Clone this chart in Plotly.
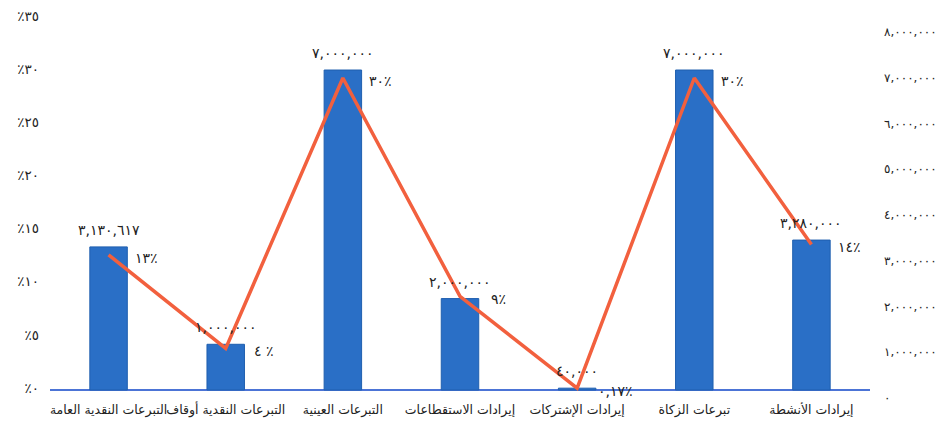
import plotly.graph_objects as go

categories = [
    "التبرعات النقدية العامة",
    "التبرعات النقدية أوقاف",
    "التبرعات العينية",
    "إيرادات الاستقطاعات",
    "إيرادات الإشتركات",
    "تبرعات الزكاة",
    "إيرادات الأنشطة",
]
amounts = [3130617, 1000000, 7000000, 2000000, 40000, 7000000, 3280000]
percents = [13, 4, 30, 9, 0.17, 30, 14]
percent_labels = ["١٣٪", "٤ ٪", "٣٠٪", "٩٪", "٠,١٧٪", "٣٠٪", "١٤٪"]
left_ticks = [0, 5, 10, 15, 20, 25, 30, 35]
right_ticks = [0, 1000000, 2000000, 3000000, 4000000, 5000000, 6000000, 7000000, 8000000]

AR = str.maketrans("0123456789", "٠١٢٣٤٥٦٧٨٩")


def ar_num(v):
    return format(int(v), ",").translate(AR)


FONT = "DejaVu Sans, sans-serif"
TXT = "#222222"
x_idx = list(range(len(categories)))

# Pixel scales of the scanned chart (px per unit) -- its tick labels sit
# slightly off the data scales, so label positions are mapped between them.
BAR_PX = 45.71 / 1e6      # bars: px per currency unit, zero on baseline
LINE_PX = 10.4            # line: px per percent, zero on baseline
LEFT_PX, LEFT_OFF = 10.63, 2    # left % labels
RIGHT_PX, RIGHT_OFF = 45.75 / 1e6, -8  # right amount labels

left_tick_pos = [(LEFT_OFF + LEFT_PX * t) / BAR_PX for t in left_ticks]
right_tick_pos = [(RIGHT_OFF + RIGHT_PX * t) / LINE_PX for t in right_ticks]

fig = go.Figure()
fig.add_trace(go.Bar(
    x=x_idx, y=amounts, yaxis="y", width=0.32,
    marker=dict(color="#2A6FC6", line=dict(color="#1F5FAF", width=1)),
    showlegend=False, hoverinfo="skip",
))
fig.add_trace(go.Scatter(
    x=x_idx, y=percents, yaxis="y2", mode="lines",
    line=dict(color="#F2603E", width=3.5),
    showlegend=False, hoverinfo="skip",
))

annotations = []
for i, v in enumerate(amounts):
    annotations.append(dict(
        x=i, y=v, xref="x", yref="y", text=ar_num(v), showarrow=False,
        yshift=17, xanchor="center", yanchor="middle",
        font=dict(family=FONT, size=14, color=TXT),
    ))
for i, (p, lab) in enumerate(zip(percents, percent_labels)):
    annotations.append(dict(
        x=i, y=p, xref="x", yref="y2", text=lab, showarrow=False,
        xshift=38, yshift=-3, xanchor="center", yanchor="middle",
        font=dict(family=FONT, size=14, color=TXT),
    ))

# plot area (window px): top 12, bottom 400; baseline at 390
TOP, BOTTOM, BASE = 12, 400, 390
fig.update_layout(
    width=952, height=430,
    margin=dict(l=42, r=90, t=TOP - 8, b=430 + 8 - BOTTOM),
    paper_bgcolor="white", plot_bgcolor="white",
    font=dict(family=FONT, size=12, color=TXT),
    xaxis=dict(
        range=[-0.5, 6.5], tickmode="array", tickvals=x_idx,
        ticktext=categories, tickangle=0, showgrid=False, showline=False,
        zeroline=False, ticks="", automargin=False,
        tickfont=dict(family=FONT, size=12.5, color=TXT),
    ),
    yaxis=dict(
        range=[-(BOTTOM - BASE) / BAR_PX, (BASE - TOP) / BAR_PX],
        tickmode="array", tickvals=left_tick_pos,
        ticktext=["٪" + str(t).translate(AR) for t in left_ticks],
        showgrid=False, showline=False, zeroline=True,
        zerolinecolor="#4C74D6", zerolinewidth=1.5,
        ticklabelstandoff=10, automargin=False, ticklabeloverflow="allow",
        tickfont=dict(family=FONT, size=13.5, color=TXT),
    ),
    yaxis2=dict(
        range=[-(BOTTOM - BASE) / LINE_PX, (BASE - TOP) / LINE_PX],
        overlaying="y", side="right", anchor="x",
        tickmode="array", tickvals=right_tick_pos,
        ticktext=[ar_num(t) for t in right_ticks],
        showgrid=False, showline=False, zeroline=False, ticks="",
        ticklabelstandoff=13, automargin=False, ticklabeloverflow="allow",
        tickfont=dict(family=FONT, size=12, color=TXT),
    ),
    annotations=annotations,
)

fig.write_html("out.html")
